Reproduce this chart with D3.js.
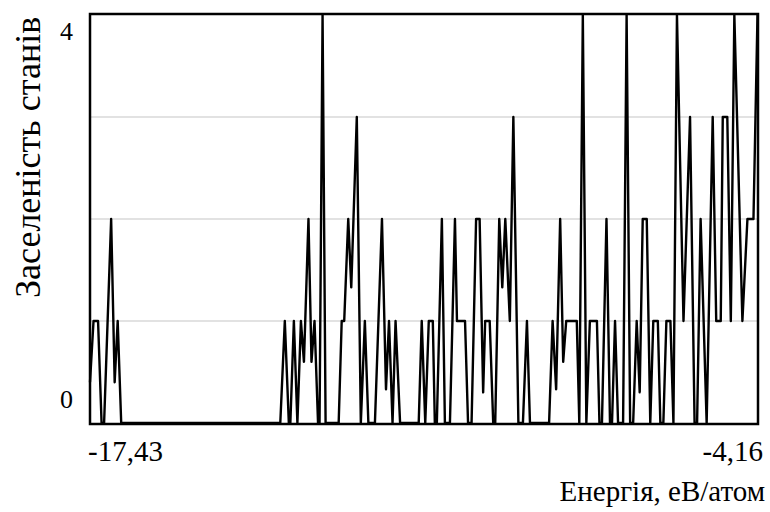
<!DOCTYPE html>
<html lang="uk">
<head>
  <meta charset="utf-8">
  <title>Заселеність станів</title>
  <script src="https://d3js.org/d3.v7.min.js" charset="utf-8"></script>
  <style>
    body { margin: 0; background: #fff; }
  </style>
</head>
<body>
<script>
// energies of the polyline vertices, eV/atom
var energy = [
  -17.43, -17.36, -17.27, -17.20, -17.15, -17.01, -16.94, -16.88, -16.81,
  -13.65, -13.56, -13.48, -13.45, -13.38, -13.31, -13.24, -13.18, -13.09, -13.03, -12.97, -12.90,
  -12.87, -12.81, -12.75,
  -12.49, -12.43, -12.38, -12.30, -12.24, -12.13, -12.05, -11.97, -11.90,
  -11.77, -11.63, -11.55, -11.49, -11.42, -11.36, -11.27,
  -10.90, -10.84, -10.77, -10.70, -10.62, -10.58,
  -10.54, -10.44, -10.38, -10.28, -10.18, -10.14, -9.98, -9.92,
  -9.85, -9.76, -9.69, -9.62, -9.58, -9.49, -9.42,
  -9.38, -9.30, -9.24, -9.18, -9.09, -9.02, -8.92, -8.83, -8.75, -8.69,
  -8.31, -8.24, -8.17, -8.09, -8.03, -7.97, -7.76, -7.71, -7.64, -7.57,
  -7.50, -7.36, -7.31, -7.26, -7.17, -7.10, -7.06, -7.00, -6.94,
  -6.84, -6.77, -6.70, -6.64, -6.57, -6.51, -6.45, -6.37, -6.30,
  -6.24, -6.15, -6.10, -6.04, -5.98, -5.90, -5.84, -5.77, -5.64, -5.51, -5.42,
  -5.37, -5.30, -5.18, -5.06, -4.99, -4.90, -4.86, -4.77, -4.70, -4.63, -4.47,
  -4.37, -4.25, -4.17
];
// occupancy at each vertex
var occupancy = [
  0.4, 1, 1, 0, 0, 2, 0.4, 1, 0,
  0, 1, 0, 0, 1, 0, 1, 0.6, 2, 0.6, 1, 0,
  0, 4, 0,
  0, 1, 1, 2, 1.33, 3, 0, 1, 0,
  0, 2, 0.33, 1, 0, 1, 0,
  0, 1, 0, 1, 1, 0,
  0, 2, 0, 0, 2, 1, 1, 0,
  0, 2, 2, 0.3, 1, 1, 0,
  0, 2, 1.33, 2, 1, 3, 0, 0, 1, 0,
  0, 1, 0.33, 2, 0.6, 1, 1, 0, 4, 0,
  1, 1, 0, 0, 2, 0, 0, 1, 0,
  0, 4, 0, 0, 1, 0.3, 2, 2, 0,
  1, 1, 0, 0, 1, 1, 0, 4, 1, 3, 0,
  0, 2, 0, 3, 1, 1, 3, 3, 1, 4, 1,
  2, 2, 4
];
var xTickLabels = ["-17,43", "-4,16"];
var yTickValues = [0, 4];
var gridLevels = [1, 2, 3];

var w = 770;
var h = 512;
var serif = "'Liberation Serif', 'Times New Roman', serif";

var points = energy.map(function(e, i) { return { e: e, v: occupancy[i] }; });

var x = d3.scaleLinear().domain([-17.43, -4.16]).range([90, 758]);
var y = d3.scaleLinear().domain([0, 4]).range([423, 15]);

var svg = d3.select('body')
  .append('svg')
  .attr('width', w)
  .attr('height', h);

// light horizontal grid
svg.selectAll('line.grid')
  .data(gridLevels)
  .enter()
  .append('line')
  .attr('class', 'grid')
  .attr('x1', x.range()[0])
  .attr('x2', x.range()[1])
  .attr('y1', function(d) { return y(d); })
  .attr('y2', function(d) { return y(d); })
  .attr('stroke', '#c6c6c6')
  .attr('stroke-width', 1.2);

var line = d3.line()
  .x(function(d) { return x(d.e); })
  .y(function(d) { return y(d.v); });

svg.append('path')
  .datum(points)
  .attr('d', line)
  .attr('fill', 'none')
  .attr('stroke', '#000')
  .attr('stroke-width', 2.4)
  .attr('stroke-linejoin', 'round');

// frame
svg.append('rect')
  .attr('x', x.range()[0])
  .attr('y', y(4) - 1)
  .attr('width', x.range()[1] - x.range()[0])
  .attr('height', y(0) - y(4) + 2)
  .attr('fill', 'none')
  .attr('stroke', '#000')
  .attr('stroke-width', 2.5);

function label(sel, size) {
  return sel.style('font-family', serif)
    .style('font-size', size + 'px')
    .attr('fill', '#000');
}

// y tick labels
label(svg.selectAll('text.ytick')
  .data(yTickValues)
  .enter()
  .append('text')
  .attr('class', 'ytick')
  .attr('x', x.range()[0] - 17)
  .attr('y', function(d) { return d === 0 ? y(d) - 15 : y(d) + 25; })
  .attr('text-anchor', 'end')
  .text(function(d) { return d; }), 26);

// x tick labels, only the two ends
label(svg.append('text')
  .attr('x', x.range()[0] - 2)
  .attr('y', 461)
  .attr('text-anchor', 'start')
  .text(xTickLabels[0]), 29);

label(svg.append('text')
  .attr('x', x.range()[1] + 5)
  .attr('y', 461)
  .attr('text-anchor', 'end')
  .text(xTickLabels[1]), 29);

label(svg.append('text')
  .attr('x', 765)
  .attr('y', 501)
  .attr('text-anchor', 'end')
  .text('Енергія, еВ/атом'), 29);

// rotated title, running upward from just under y=300
label(svg.append('text')
  .attr('transform', 'translate(40,298) rotate(-90)')
  .attr('text-anchor', 'start')
  .text('Заселеність станів'), 36);
</script>
</body>
</html>
